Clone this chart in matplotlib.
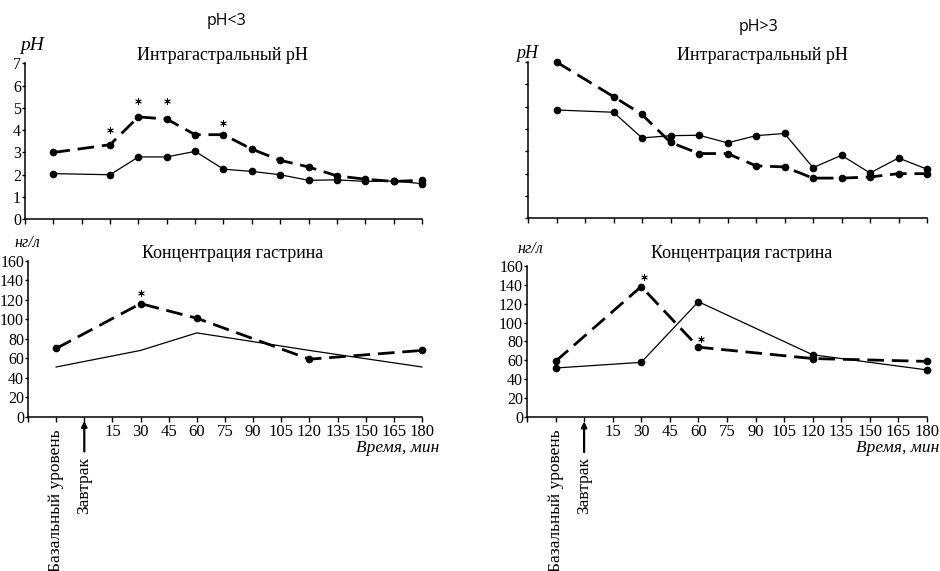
import numpy as np
import matplotlib
matplotlib.use("Agg")
import matplotlib.pyplot as plt

plt.rcParams['font.family'] = ['Liberation Serif', 'DejaVu Serif']

# x categories: axis origin, basal level, breakfast, then minutes
tick_labels = ['', 'Базальный уровень', 'Завтрак', '15', '30', '45', '60', '75',
               '90', '105', '120', '135', '150', '165', '180']
ph_times = ['Базальный уровень', '15', '30', '45', '60', '75', '90', '105',
            '120', '135', '150', '165', '180']
gas_times = ['Базальный уровень', '30', '60', '120', '180']

# intragastric pH, group pH<3
ph_low_dash = [3.0, 3.35, 4.6, 4.5, 3.8, 3.8, 3.15, 2.65, 2.35, 1.95, 1.8, 1.7, 1.75]
ph_low_solid = [2.05, 2.0, 2.8, 2.8, 3.05, 2.25, 2.15, 2.0, 1.75, 1.77, 1.7, 1.72, 1.6]
ph_low_stars_t = ['15', '30', '45', '75']
ph_low_stars_v = [4.0, 5.3, 5.3, 4.33]

# intragastric pH, group pH>3
ph_high_dash = [7.0, 5.45, 4.65, 3.4, 2.9, 2.9, 2.35, 2.3, 1.8, 1.8, 1.85, 2.0, 2.0]
ph_high_solid = [4.85, 4.75, 3.6, 3.7, 3.72, 3.38, 3.7, 3.8, 2.27, 2.82, 2.03, 2.7, 2.2]

# gastrin, ng/l
gas_low_dash = [70, 116, 101, 59, 68]
gas_low_solid = [51, 68, 86, 68, 51]
gas_low_stars_t = ['30']
gas_low_stars_v = [127]

gas_high_dash = [59, 138, 74, 62, 59]
gas_high_solid = [52, 58, 122, 66, 50]
gas_high_stars_t = ['30', '60']
gas_high_stars_v = [148, 83]


def pos(labels):
    return [tick_labels.index(l) for l in labels]


def style_axis(ax, ymax, ystep, show_ylabels=True, show_xlabels=True):
    for s in ['top', 'right']:
        ax.spines[s].set_visible(False)
    for s in ['left', 'bottom']:
        ax.spines[s].set_linewidth(1.1)
    ax.set_xlim(0, 14)
    ax.set_ylim(0, ymax)
    ax.set_xticks(range(15))
    ax.set_yticks(np.arange(0, ymax + 0.1, ystep))
    ax.tick_params(axis='x', direction='out', length=3.5, width=1, labelsize=12, pad=1.5)
    ax.tick_params(axis='y', direction='out', length=2.5, width=1, labelsize=11.5, pad=0.3)
    if show_xlabels:
        ax.set_xticklabels(['', '', ''] + tick_labels[3:])
    else:
        ax.set_xticklabels([])
    if not show_ylabels:
        ax.set_yticklabels([])


def add_time_labels(ax, xr):
    ax.annotate('Базальный уровень', xy=(1, 0), xycoords=('data', 'axes fraction'),
                xytext=(0, -9), textcoords='offset points', rotation=90,
                ha='center', va='top', fontsize=12.5)
    ax.annotate('Завтрак', xy=(2, 0), xycoords=('data', 'axes fraction'),
                xytext=(0, -29), textcoords='offset points', rotation=90,
                ha='center', va='top', fontsize=12.5,
                arrowprops=dict(arrowstyle='-|>', color='black', lw=1.6,
                                relpos=(0.5, 1.0), shrinkA=2, shrinkB=3,
                                mutation_scale=8))
    ax.text(xr, -0.2, 'Время, мин', transform=ax.transAxes, ha='right', va='center',
            fontsize=12.5, style='italic')


def plot_pair(ax, times, dash, solid, solid_markers=True):
    x = pos(times)
    ax.plot(x, solid, color='black', lw=0.9, marker='o' if solid_markers else None,
            markersize=4.5, clip_on=False, zorder=3)
    ax.plot(x, dash, color='black', lw=2.0, dashes=(6, 2.8), marker='o',
            markersize=4.5, clip_on=False, zorder=4)


def plot_stars(ax, times, vals, dx=0.0):
    x = [p + dx for p in pos(times)]
    ax.scatter(x, vals, marker=(6, 2, 0), s=18, color='black', linewidths=0.6,
               clip_on=False, zorder=5)


fig = plt.figure(figsize=(9.4, 5.71), dpi=100)

ax1 = fig.add_axes([0.0266, 0.616, 0.4223, 0.2729])
ax2 = fig.add_axes([0.5617, 0.6177, 0.4245, 0.2737])
ax3 = fig.add_axes([0.0298, 0.2702, 0.4191, 0.2732])
ax4 = fig.add_axes([0.5606, 0.2692, 0.4255, 0.2655])

# pH panels
style_axis(ax1, 7, 1, show_xlabels=False)
plot_pair(ax1, ph_times, ph_low_dash, ph_low_solid)
plot_stars(ax1, ph_low_stars_t, ph_low_stars_v)

style_axis(ax2, 7, 1, show_ylabels=False, show_xlabels=False)
plot_pair(ax2, ph_times, ph_high_dash, ph_high_solid)

# gastrin panels
style_axis(ax3, 160, 20)
plot_pair(ax3, gas_times, gas_low_dash, gas_low_solid, solid_markers=False)
plot_stars(ax3, gas_low_stars_t, gas_low_stars_v)
add_time_labels(ax3, 1.045)

style_axis(ax4, 160, 20)
plot_pair(ax4, gas_times, gas_high_dash, gas_high_solid)
plot_stars(ax4, gas_high_stars_t, gas_high_stars_v, dx=0.1)
add_time_labels(ax4, 1.03)

# titles and axis captions
fig.text(226 / 940, 1 - 21 / 571, 'pH<3', family=['Open Sans', 'DejaVu Sans'],
         fontsize=11.5, ha='center', va='center')
fig.text(759 / 940, 1 - 27 / 571, 'pH>3', family=['Open Sans', 'DejaVu Sans'],
         fontsize=11.5, ha='center', va='center')
fig.text(222 / 940, 1 - 55 / 571, 'Интрагастральный pH', fontsize=13, ha='center', va='center')
fig.text(762 / 940, 1 - 55 / 571, 'Интрагастральный pH', fontsize=13, ha='center', va='center')
fig.text(233 / 940, 1 - 254 / 571, 'Концентрация гастрина', fontsize=13, ha='center', va='center')
fig.text(742 / 940, 1 - 254 / 571, 'Концентрация гастрина', fontsize=13, ha='center', va='center')
fig.text(32 / 940, 1 - 45 / 571, 'pH', fontsize=14, style='italic', ha='center', va='center')
fig.text(527 / 940, 1 - 54 / 571, 'pH', fontsize=13, style='italic', ha='center', va='center')
fig.text(27 / 940, 1 - 243 / 571, 'нг/л', fontsize=11.5, style='italic', ha='center', va='center')
fig.text(530 / 940, 1 - 249 / 571, 'нг/л', fontsize=11.5, style='italic', ha='center', va='center')

fig.savefig('out.png', dpi=100)
